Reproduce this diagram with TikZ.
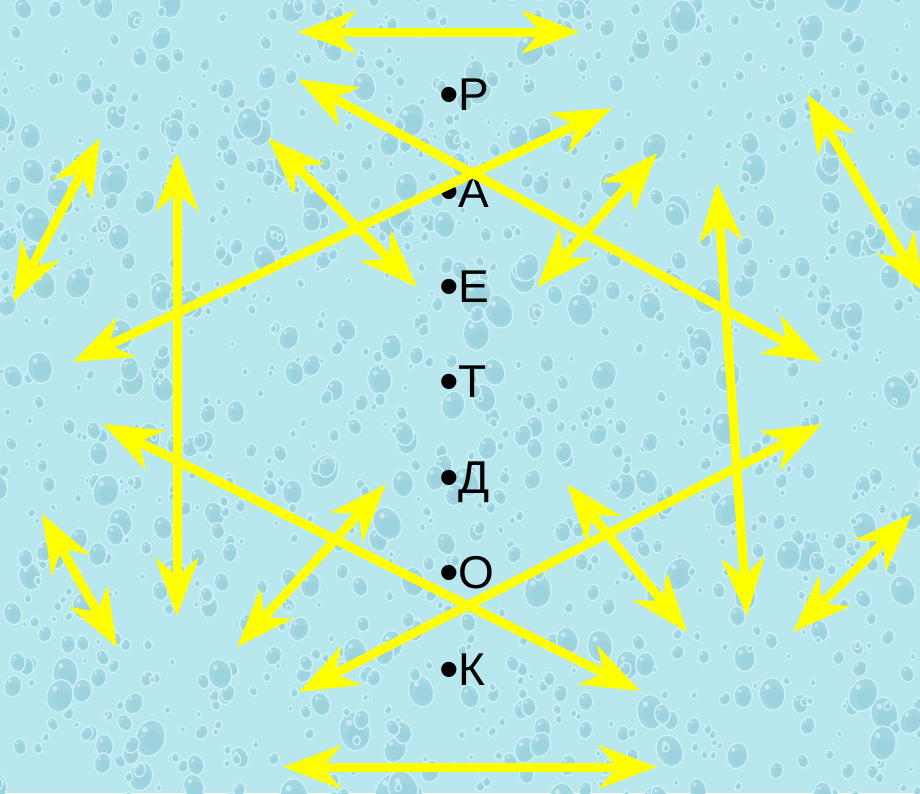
\documentclass[tikz,border=0pt]{standalone}
\usepackage{fontspec}
\setmainfont{Liberation Sans}
\usetikzlibrary{arrows.meta}
\definecolor{bgc}{RGB}{184,231,238}
\definecolor{dropc}{RGB}{163,216,227}
\definecolor{dropd}{RGB}{128,193,207}
\definecolor{rimc}{RGB}{204,242,247}
\definecolor{arr}{RGB}{255,255,0}
\tikzset{
  dbl/.style={draw=arr, line width=9pt,
    {Stealth[length=58pt,width=43pt,inset=18pt]}-{Stealth[length=58pt,width=43pt,inset=18pt]}},
  lbl/.style={anchor=base west, inner sep=0pt, font=\fontsize{46}{50}\selectfont, text=black},
  dropstyle/.style={fill=dropc, draw=rimc, line width=1.4pt},
}
\newcommand{\bul}{{\fontsize{56}{56}\selectfont\raisebox{-3pt}{•}}}
\begin{document}
\begin{tikzpicture}[x=1pt,y=-1pt]
\useasboundingbox (0,0) rectangle (920,793);
\fill[bgc] (0,0) rectangle (920,793);
\begin{scope}
\clip (0,0) rectangle (920,793);
\pgfmathsetseed{11}
\foreach \i in {1,...,1300}{
  \pgfmathsetmacro\px{rnd*950-15}
  \pgfmathsetmacro\py{rnd*823-15}
  \pgfmathsetmacro\rr{3+rnd*rnd*17}
  \pgfmathsetmacro\rx{\rr*0.78}
  \pgfmathsetmacro\ang{rnd*60-30}
  \pgfmathsetmacro\sx{\px+\rr*0.15}
  \pgfmathsetmacro\sy{\py+\rr*0.2}
  \pgfmathsetmacro\sr{\rr*0.55}
  \pgfmathsetmacro\hx{\px-\rr*0.3}
  \pgfmathsetmacro\hy{\py-\rr*0.45}
  \pgfmathsetmacro\hr{\rr*0.16}
  \path[dropstyle, rotate around={\ang:(\px,\py)}] (\px,\py) ellipse [x radius=\rx pt, y radius=\rr pt];
  \fill[dropd, opacity=0.18] (\sx,\sy) circle [radius=\sr pt];
  \fill[white, opacity=0.45] (\hx,\hy) circle [radius=\hr pt];
}
\end{scope}

\node[lbl] (r) at (439,110) {\bul Р};
\node[lbl] (a) at (439,207) {\bul А};
\node[lbl] (e) at (439,302) {\bul Е};
\node[lbl] (t) at (439,397) {\bul Т};
\node[lbl] (d) at (439,493) {\bul Д};
\node[lbl] (o) at (439,588) {\bul О};
\node[lbl] (k) at (439,685) {\bul К};

\coordinate (a1) at (298,32);  \coordinate (b1) at (580,32);
\coordinate (a2) at (298,79);  \coordinate (b2) at (822,362);
\coordinate (a3) at (100,138); \coordinate (b3) at (13,302);
\coordinate (a4) at (177,153); \coordinate (b4) at (177,616);
\coordinate (a5) at (268,138); \coordinate (b5) at (417,287);
\coordinate (a6) at (73,362);  \coordinate (b6) at (612,108);
\coordinate (a7) at (657,153); \coordinate (b7) at (537,287);
\coordinate (a8) at (717,183); \coordinate (b8) at (747,616);
\coordinate (a9) at (807,94);  \coordinate (b9) at (925,293);
\coordinate (a10) at (103,424); \coordinate (b10) at (640,691);
\coordinate (a11) at (42,514);  \coordinate (b11) at (117,647);
\coordinate (a12) at (386,484); \coordinate (b12) at (237,647);
\coordinate (a13) at (299,692); \coordinate (b13) at (822,424);
\coordinate (a14) at (283,767); \coordinate (b14) at (657,767);
\coordinate (a15) at (567,484); \coordinate (b15) at (687,632);
\coordinate (a16) at (912,514); \coordinate (b16) at (793,632);

\begin{scope}
\clip (0,0) rectangle (920,793);
\foreach \n in {1,...,16}{
  \draw[dbl] (a\n) -- (b\n);
}
\end{scope}
\end{tikzpicture}
\end{document}
